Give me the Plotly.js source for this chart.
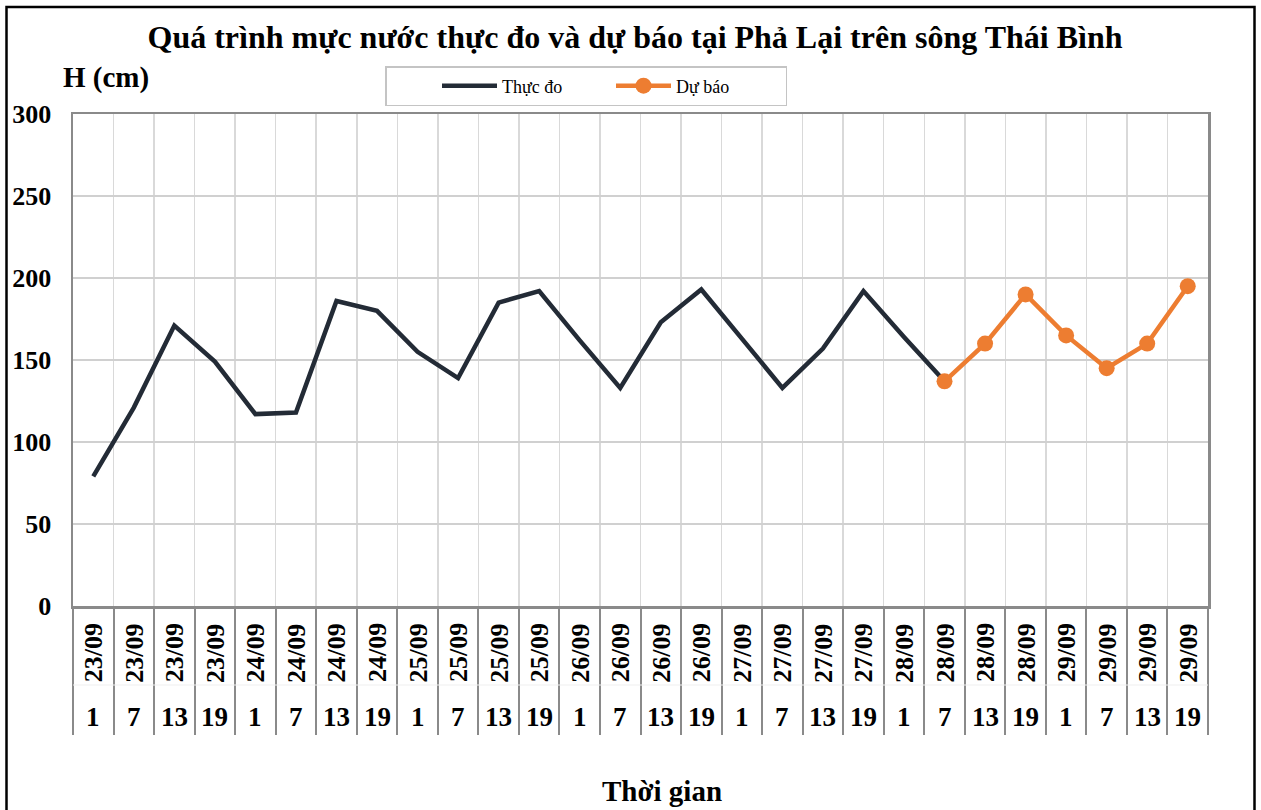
<!DOCTYPE html>
<html>
<head>
<meta charset="utf-8">
<script src="https://cdn.plot.ly/plotly-3.0.1.min.js"></script>
<style>html,body{margin:0;padding:0;background:#fff;}#chart{width:1261px;height:810px;}</style>
</head>
<body>
<div id="chart"></div>
<script>
// ---- data ----
const dates = ['23/09','23/09','23/09','23/09','24/09','24/09','24/09','24/09','25/09','25/09','25/09','25/09',
               '26/09','26/09','26/09','26/09','27/09','27/09','27/09','27/09','28/09','28/09','28/09','28/09',
               '29/09','29/09','29/09','29/09'];
const hours = ['1','7','13','19','1','7','13','19','1','7','13','19','1','7','13','19',
               '1','7','13','19','1','7','13','19','1','7','13','19'];
const observedValues = [79,121,171,149,117,118,186,180,155,139,185,192,162,133,173,193,163,133,157,192,164,137];
const forecastStart = 21;
const forecastValues = [137,160,190,165,145,160,195];
const seriesNames = ['Thực đo','Dự báo'];
const titleText = 'Quá trình mực nước thực đo và dự báo tại Phả Lại trên sông Thái Bình';
const yTitle = 'H (cm)';
const xTitle = 'Thời gian';

// ---- build ----
const cats = dates.map((d,i)=> d + ' ' + hours[i]);
const serif = 'Liberation Serif, Times New Roman, serif';

const traces = [
  {x: cats.slice(0, observedValues.length), y: observedValues, name: seriesNames[0],
   type:'scatter', mode:'lines', line:{color:'#232b36', width:4.5}},
  {x: cats.slice(forecastStart, forecastStart + forecastValues.length), y: forecastValues, name: seriesNames[1],
   type:'scatter', mode:'lines+markers', line:{color:'#ED7D31', width:4.5},
   marker:{color:'#ED7D31', size:16}}
];

const L = 73, R = 1208, T = 114, B = 606;
const pw = R - L, ph = B - T;
const px = v => (v - L) / pw;
const py = v => (B - v) / ph;

const annotations = [];
cats.forEach((c,i)=>{
  annotations.push({x:c, xref:'x', y:py(653), yref:'paper', text:'<b>'+dates[i]+'</b>', textangle:-90,
    showarrow:false, xanchor:'center', yanchor:'middle', font:{family:serif, size:26, color:'#000'}});
  annotations.push({x:c, xref:'x', y:py(717), yref:'paper', text:'<b>'+hours[i]+'</b>',
    showarrow:false, xanchor:'center', yanchor:'middle', font:{family:serif, size:27, color:'#000'}});
});
annotations.push({x:px(61), xref:'paper', y:py(77), yref:'paper', text:'<b>'+yTitle+'</b>', showarrow:false,
  xanchor:'left', yanchor:'middle', font:{family:serif, size:29, color:'#000'}});
annotations.push({x:px(662), xref:'paper', y:py(791), yref:'paper', text:'<b>'+xTitle+'</b>', showarrow:false,
  xanchor:'center', yanchor:'middle', font:{family:serif, size:29, color:'#000'}});

const shapes = [
  {type:'rect', xref:'paper', yref:'paper', x0:px(6.5), x1:px(1254.5), y0:py(830), y1:py(7),
   line:{color:'#000', width:2.5}, fillcolor:'rgba(0,0,0,0)', layer:'above'},
  {type:'line', xref:'paper', yref:'paper', x0:0, x1:1, y0:py(685), y1:py(685),
   line:{color:'#efefef', width:1}}
];

const layout = {
  width:1261, height:810,
  margin:{l:L, r:1261-R, t:T, b:810-B, pad:0},
  paper_bgcolor:'#fff', plot_bgcolor:'#fff',
  title:{text:'<b>'+titleText+'</b>', x:635/1261, xref:'container', xanchor:'center',
         y:1-37/810, yref:'container', yanchor:'middle',
         font:{family:serif, size:32, color:'#000'}},
  showlegend:true,
  legend:{orientation:'h', x:px(385), y:py(66), xanchor:'left', yanchor:'top',
          bordercolor:'#c4c4c4', borderwidth:1.5, bgcolor:'#fff',
          title:{text:'&nbsp;'.repeat(9), side:'left', font:{family:serif, size:18}},
          font:{family:serif, size:18, color:'#000'}, entrywidth:104, entrywidthmode:'pixels',
          itemwidth:55},
  xaxis:{type:'category', categoryorder:'array', categoryarray:cats, range:[-0.5, cats.length-0.5],
         tickson:'boundaries', ticks:'outside', ticklen:126, tickcolor:'#8a8a8a', tickwidth:2,
         showticklabels:false, showgrid:true, gridcolor:'#d9d9d9', gridwidth:1.5,
         showline:true, linecolor:'#8a8a8a', linewidth:2.5, mirror:true, zeroline:false, fixedrange:true},
  yaxis:{range:[0,300], dtick:50, tick0:0, showgrid:true, gridcolor:'#d0d0d0', gridwidth:1.5,
         showline:true, linecolor:'#8a8a8a', linewidth:2.5, mirror:true, zeroline:false,
         ticks:'', ticklabelstandoff:14,
         tickfont:{family:serif, size:26, color:'#000', weight:'bold'}, fixedrange:true},
  annotations:annotations,
  shapes:shapes
};

Plotly.newPlot('chart', traces, layout, {displayModeBar:false, staticPlot:true});
</script>
</body>
</html>
